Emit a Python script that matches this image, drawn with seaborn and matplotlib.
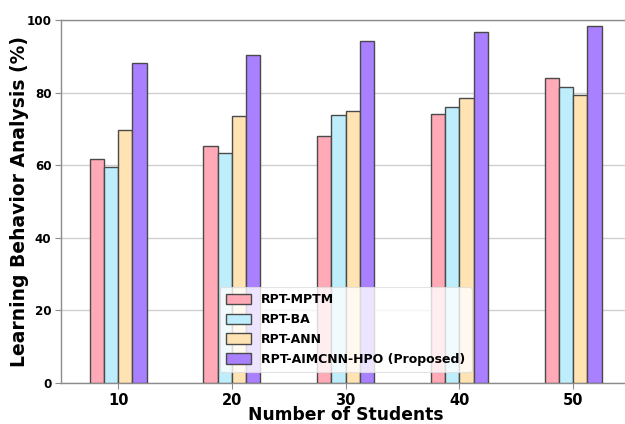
import matplotlib
matplotlib.use("Agg")
import matplotlib.pyplot as plt
import seaborn as sns
import pandas as pd

# Data: learning behaviour analysis (%) for each method and class size
students = ["10", "20", "30", "40", "50"]
methods = ["RPT-MPTM", "RPT-BA", "RPT-ANN", "RPT-AIMCNN-HPO (Proposed)"]
rpt_mptm = [61.8, 65.3, 68.0, 74.0, 83.9]
rpt_ba = [59.4, 63.4, 73.9, 75.9, 81.4]
rpt_ann = [69.6, 73.5, 74.9, 78.4, 79.4]
rpt_aimcnn_hpo = [88.0, 90.4, 94.2, 96.6, 98.4]

colors = ["#FFAAB6", "#BEEEFB", "#FFE3B3", "#A980FF"]

series = [rpt_mptm, rpt_ba, rpt_ann, rpt_aimcnn_hpo]
df = pd.DataFrame(
    [(s, m, v) for m, vals in zip(methods, series) for s, v in zip(students, vals)],
    columns=["students", "method", "value"],
)

sns.set_theme(style="white")
plt.rcParams["font.family"] = ["DejaVu Sans"]
plt.rcParams["text.color"] = "black"
plt.rcParams["axes.labelcolor"] = "black"
plt.rcParams["xtick.color"] = "black"
plt.rcParams["ytick.color"] = "black"

fig = plt.figure(figsize=(6.25, 4.24), dpi=100)
ax = fig.add_axes([0.098, 0.097, 0.91, 0.856])

sns.barplot(
    data=df, x="students", y="value", hue="method",
    order=students, hue_order=methods, palette=colors,
    width=0.5, gap=0, edgecolor="#4a4a4a", linewidth=1.0,
    saturation=1, ax=ax, zorder=3,
)

ax.set_ylim(0, 100)
ax.set_xlim(-0.5, 4.5)
ax.set_yticks([0, 20, 40, 60, 80, 100])
ax.yaxis.grid(True, color="#d0d0d0", linewidth=1.0, zorder=0)
ax.xaxis.grid(False)
ax.set_axisbelow(True)

for side in ["left", "bottom", "top"]:
    ax.spines[side].set_color("#8c8c8c")
    ax.spines[side].set_linewidth(1.0)
ax.spines["right"].set_visible(False)

ax.tick_params(axis="both", which="major", length=4, width=0.8, color="#8c8c8c",
               labelcolor="black", left=True, bottom=True, pad=3)
for lbl in ax.get_xticklabels():
    lbl.set_fontsize(10.5)
    lbl.set_fontweight("bold")
for lbl in ax.get_yticklabels():
    lbl.set_fontsize(8.6)
    lbl.set_fontweight("bold")

ax.set_xlabel("Number of Students", fontsize=12.3, fontweight="bold", labelpad=-1,
              color="black")
ax.set_ylabel("Learning Behavior Analysis (%)", fontsize=13.5, fontweight="bold",
              labelpad=-2, color="black")

leg = ax.legend(loc="lower center", prop={"weight": "bold", "size": 9},
                frameon=True, framealpha=0.8, edgecolor="#dddddd",
                handlelength=2.0, handleheight=0.95, borderpad=0.5,
                labelspacing=0.55, borderaxespad=0.85)
leg.get_frame().set_linewidth(0.8)
for t in leg.get_texts():
    t.set_color("black")

fig.savefig("out.png", dpi=100)
